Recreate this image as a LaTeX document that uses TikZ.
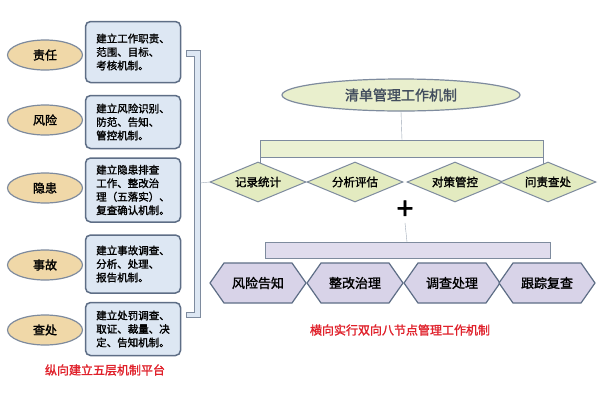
\documentclass[tikz,border=0pt]{standalone}
\usepackage{fontspec}
\setmainfont{Noto Sans CJK SC}[FakeBold=1.6]
\usetikzlibrary{shapes.geometric,shapes.symbols}
\definecolor{tan}{HTML}{F0D8A8}
\definecolor{boxb}{HTML}{DDE7F3}
\definecolor{edge}{HTML}{5E6E86}
\definecolor{grn}{HTML}{E3EBC0}
\definecolor{lav}{HTML}{D8D3E8}
\definecolor{redt}{HTML}{E0202A}
\begin{document}
\begin{tikzpicture}[x=1pt,y=-1pt,
  lell/.style={ellipse,draw=edge!80,line width=1.2pt,fill=tan,minimum width=75pt,minimum height=30pt,inner sep=0pt,font=\fontsize{12}{14}\selectfont},
  lbox/.style={rectangle,rounded corners=5pt,draw=edge,line width=1.5pt,fill=boxb,minimum width=95pt,align=left,font=\fontsize{10.5}{13.5}\selectfont,inner sep=3pt},
  dia/.style={diamond,aspect=2.4,draw=edge!80,line width=1pt,fill=grn,minimum width=96pt,minimum height=40pt,inner sep=0pt,font=\fontsize{11.5}{13}\selectfont},
  hexa/.style={signal,signal to=east and west,signal pointer angle=110,draw=edge,line width=1.2pt,fill=lav,minimum width=96pt,minimum height=40pt,inner sep=2pt,font=\fontsize{13}{15}\selectfont},
  bar/.style={draw=edge!80,line width=1pt},
  redcap/.style={text=redt,font=\fontsize{12}{14}\selectfont}]
\useasboundingbox[fill=white] (0,0) rectangle (600,400);
% left
\foreach \n/\y/\t in {a/55/责任,b/120/风险,c/188/隐患,d/265/事故,e/330/查处}
  \node[lell] (e\n) at (45,\y) {\t};
\node[lbox,minimum height=61pt] (ba) at (133,52) {建立工作职责、\\范围、目标、\\考核机制。};
\node[lbox,minimum height=53pt] (bb) at (133,122) {建立风险识别、\\防范、告知、\\管控机制。};
\node[lbox,minimum height=64pt] (bc) at (133,190) {建立隐患排查\\工作、整改治\\理（五落实）、\\复查确认机制。};
\node[lbox,minimum height=58pt] (bd) at (133,264) {建立事故调查、\\分析、处理、\\报告机制。};
\node[lbox,minimum height=53pt] (be) at (133,329) {建立处罚调查、\\取证、裁量、决\\定、告知机制。};
\node[redcap] (lcap) at (105,370) {纵向建立五层机制平台};
% vertical bracket bar
\draw[bar,fill=boxb] (186,50) -- (200,50) -- (200,317) -- (186,317) -- (186,312) -- (194,312) -- (194,56) -- (186,56) -- cycle;
\coordinate (vb) at (200,183);
% right
\node[ellipse,draw=edge!80,line width=1.2pt,fill=grn!80,minimum width=238pt,minimum height=32pt,font=\fontsize{14}{16}\selectfont,text=edge!70!black] (top) at (401,95) {清单管理工作机制};
\draw[bar,fill=grn!70] (260,140) rectangle (543,157);
\coordinate (b1) at (402,140);
\draw[edge!60] (top.south) -- (b1);
\draw[bar] (260,157) -- (260,165) (543,157) -- (543,165);
\foreach \n/\x/\t in {1/258/记录统计,2/355/分析评估,3/455/对策管控,4/548/问责查处}
  \node[dia] (d\n) at (\x,182) {\t};
\draw[edge!60] (vb) -- (d1.west);
\node[font=\fontsize{30}{30}\selectfont] (plus) at (405,210) {+};
\draw[bar,fill=lav!80] (265,242) rectangle (550,258);
\coordinate (b2) at (407,242);
\draw[edge!60] (plus.south) -- (b2);
\foreach \n/\x/\t in {1/258/风险告知,2/355/整改治理,3/452/调查处理,4/547/跟踪复查}
  \node[hexa] (h\n) at (\x,283) {\t};
\node[redcap] (rcap) at (400,330) {横向实行双向八节点管理工作机制};
\end{tikzpicture}
\end{document}
